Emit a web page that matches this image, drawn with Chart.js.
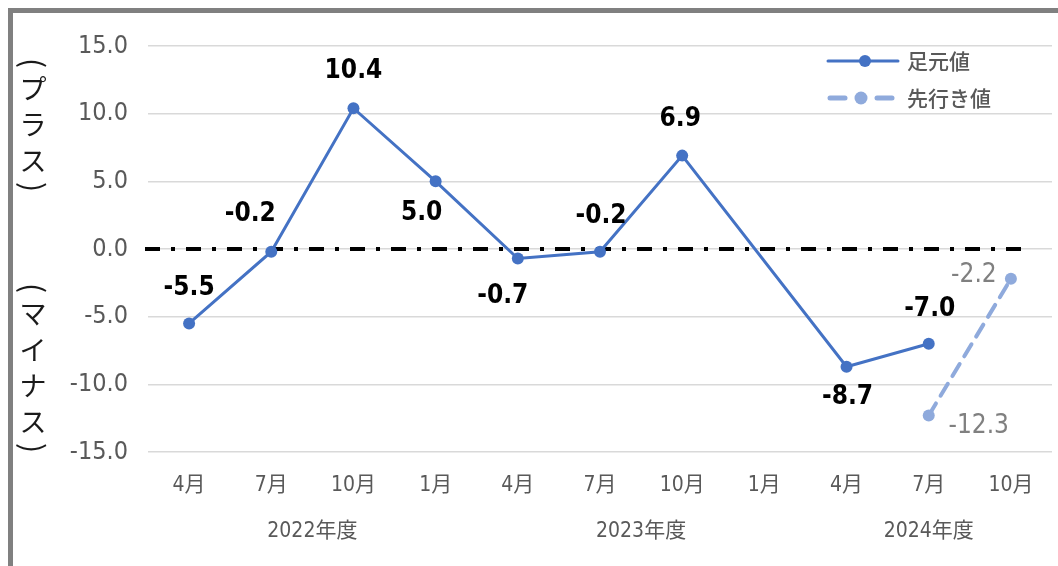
<!DOCTYPE html>
<html><head><meta charset="utf-8">
<script src="https://cdn.jsdelivr.net/npm/chart.js@4/dist/chart.umd.min.js"></script>
<style>
html,body{margin:0;padding:0;background:#fff;}
#wrap{position:relative;width:1058px;height:566px;overflow:hidden;background:#fff;}
#frame{position:absolute;left:8px;top:8px;width:2000px;height:2000px;border-left:5px solid #808080;border-top:5px solid #808080;box-sizing:border-box;pointer-events:none;}
canvas{position:absolute;left:0;top:0;}
</style></head><body>
<div id="wrap"><canvas id="c" width="1058" height="566"></canvas><div id="frame"></div></div>
<script>
// ---- data ----
const categories = ['4月','7月','10月','1月','4月','7月','10月','1月','4月','7月','10月'];
const fiscalYears = ['2022年度','2023年度','2024年度'];
const fiscalYearFirst = [0, 4, 8];
const fiscalYearLast = [3, 7, 10];
const actualValues = [-5.5, -0.2, 10.4, 5.0, -0.7, -0.2, 6.9, null, -8.7, -7.0, null];
const forecastValues = [null, null, null, null, null, null, null, null, null, -12.3, -2.2];
const yMin = -15, yMax = 15, yStep = 5;
const seriesNames = ['足元値', '先行き値'];
const yTitleTop = '（プラス）';
const yTitleBottom = '（マイナス）';

const NUM = "'DejaVu Sans Condensed','Noto Sans CJK JP',sans-serif";
const CJK = "'Noto Sans CJK JP',sans-serif";
const GRAY = '#595959';
const C1 = '#4472C4', C2 = '#8FAADC';

// label placement (offset from point, px)
const labelOffsets = [
  [[0,-35],[-21,-37],[0,-37],[-14,32],[-15,38],[1,-35],[-2,-36],null,[1,31],[1,-34],null],
  [null,null,null,null,null,null,null,null,null,[50,11],[-37,-4]]
];

const extras = {
  id: 'extras',
  beforeDatasetsDraw(chart) {
    const {ctx, chartArea} = chart;
    const y = chart.scales.y.getPixelForValue(0);
    ctx.save();
    ctx.strokeStyle = '#000';
    ctx.lineWidth = 4;
    ctx.setLineDash([15, 11, 4, 11]);
    ctx.beginPath();
    ctx.moveTo(chartArea.left - 3, y);
    ctx.lineTo(chartArea.right - 24, y);
    ctx.stroke();
    ctx.restore();
  },
  afterDraw(chart) {
    const {ctx} = chart;
    const xs = chart.scales.x;
    ctx.save();
    // data labels
    ctx.textAlign = 'center';
    ctx.textBaseline = 'middle';
    chart.data.datasets.forEach((ds, di) => {
      const meta = chart.getDatasetMeta(di);
      ds.data.forEach((v, i) => {
        if (v === null || !labelOffsets[di][i]) return;
        const el = meta.data[i];
        const [dx, dy] = labelOffsets[di][i];
        if (di === 0) { ctx.font = "bold 26px " + NUM; ctx.fillStyle = '#000'; }
        else { ctx.font = "26px " + NUM; ctx.fillStyle = '#808080'; }
        ctx.fillText(v.toFixed(1), el.x + dx, el.y + dy);
      });
    });
    // fiscal year labels
    ctx.font = "21px " + NUM;
    ctx.fillStyle = GRAY;
    fiscalYears.forEach((name, k) => {
      const x = (xs.getPixelForValue(fiscalYearFirst[k]) + xs.getPixelForValue(fiscalYearLast[k])) / 2;
      ctx.fillText(name, x, 532);
    });
    // legend
    const lx = 828, lw = 70;
    ctx.lineCap = 'round';
    ctx.strokeStyle = C1; ctx.fillStyle = C1; ctx.lineWidth = 3;
    ctx.beginPath(); ctx.moveTo(lx, 61); ctx.lineTo(lx + lw, 61); ctx.stroke();
    ctx.beginPath(); ctx.arc(lx + 37, 61, 6, 0, Math.PI * 2); ctx.fill();
    ctx.strokeStyle = C2; ctx.fillStyle = C2; ctx.lineWidth = 5;
    ctx.beginPath(); ctx.moveTo(lx + 2, 98); ctx.lineTo(lx + 17, 98); ctx.stroke();
    ctx.beginPath(); ctx.moveTo(lx + 49, 98); ctx.lineTo(lx + 64, 98); ctx.stroke();
    ctx.beginPath(); ctx.arc(lx + 33, 98, 6.5, 0, Math.PI * 2); ctx.fill();
    ctx.font = "500 21px " + CJK; ctx.fillStyle = GRAY; ctx.textAlign = 'left';
    ctx.fillText(seriesNames[0], 907, 61);
    ctx.fillText(seriesNames[1], 907, 98);
    // vertical y title
    const drawVertical = (str, y0) => {
      let y = y0;
      const chars = Array.from(str);
      chars.forEach((ch, i) => {
        const isParen = ch === '（' || ch === '）';
        if (i > 0) {
          const prevParen = chars[i-1] === '（' || chars[i-1] === '）';
          y += (isParen || prevParen) ? 26 : 36;
        }
        ctx.save();
        ctx.translate(33, y);
        ctx.fillStyle = '#1a1a1a';
        ctx.textAlign = 'center';
        ctx.textBaseline = 'middle';
        if (isParen) {
          ctx.rotate(Math.PI / 2);
          ctx.font = "30px " + CJK;
          ctx.fillText(ch === '（' ? '(' : ')', 0, 0);
        } else {
          ctx.font = "27px " + CJK;
          ctx.fillText(ch, 0, 0);
        }
        ctx.restore();
      });
    };
    drawVertical(yTitleTop, 63);
    drawVertical(yTitleBottom, 288);
    ctx.restore();
  }
};

new Chart(document.getElementById('c'), {
  type: 'line',
  data: {
    labels: categories,
    datasets: [
      { label: seriesNames[0], data: actualValues, borderColor: C1, backgroundColor: C1, borderWidth: 3,
        pointRadius: 6, pointHoverRadius: 6, pointBorderWidth: 0, spanGaps: true, tension: 0 },
      { label: seriesNames[1], data: forecastValues, borderColor: C2, backgroundColor: C2, borderWidth: 4,
        borderDash: [14, 9], borderCapStyle: 'round', pointRadius: 6, pointHoverRadius: 6, pointBorderWidth: 0, spanGaps: false, tension: 0 }
    ]
  },
  options: {
    responsive: false,
    animation: false,
    layout: { padding: { left: 0, right: 4, top: 46, bottom: 0 } },
    plugins: { legend: { display: false }, tooltip: { enabled: false } },
    scales: {
      x: {
        offset: true,
        grid: { display: false },
        border: { display: false },
        ticks: { font: { family: NUM, size: 21 }, color: GRAY, padding: 13, maxRotation: 0, autoSkip: false },
        afterFit(s) { s.height = 114; }
      },
      y: {
        min: yMin, max: yMax,
        ticks: { stepSize: yStep, callback: v => v.toFixed(1), padding: 20, font: { family: NUM, size: 25 }, color: GRAY },
        grid: { color: '#d9d9d9', lineWidth: 1.5, drawTicks: false },
        border: { display: false },
        afterFit(s) { s.width = 148; }
      }
    }
  },
  plugins: [extras]
});
</script>
</body></html>
